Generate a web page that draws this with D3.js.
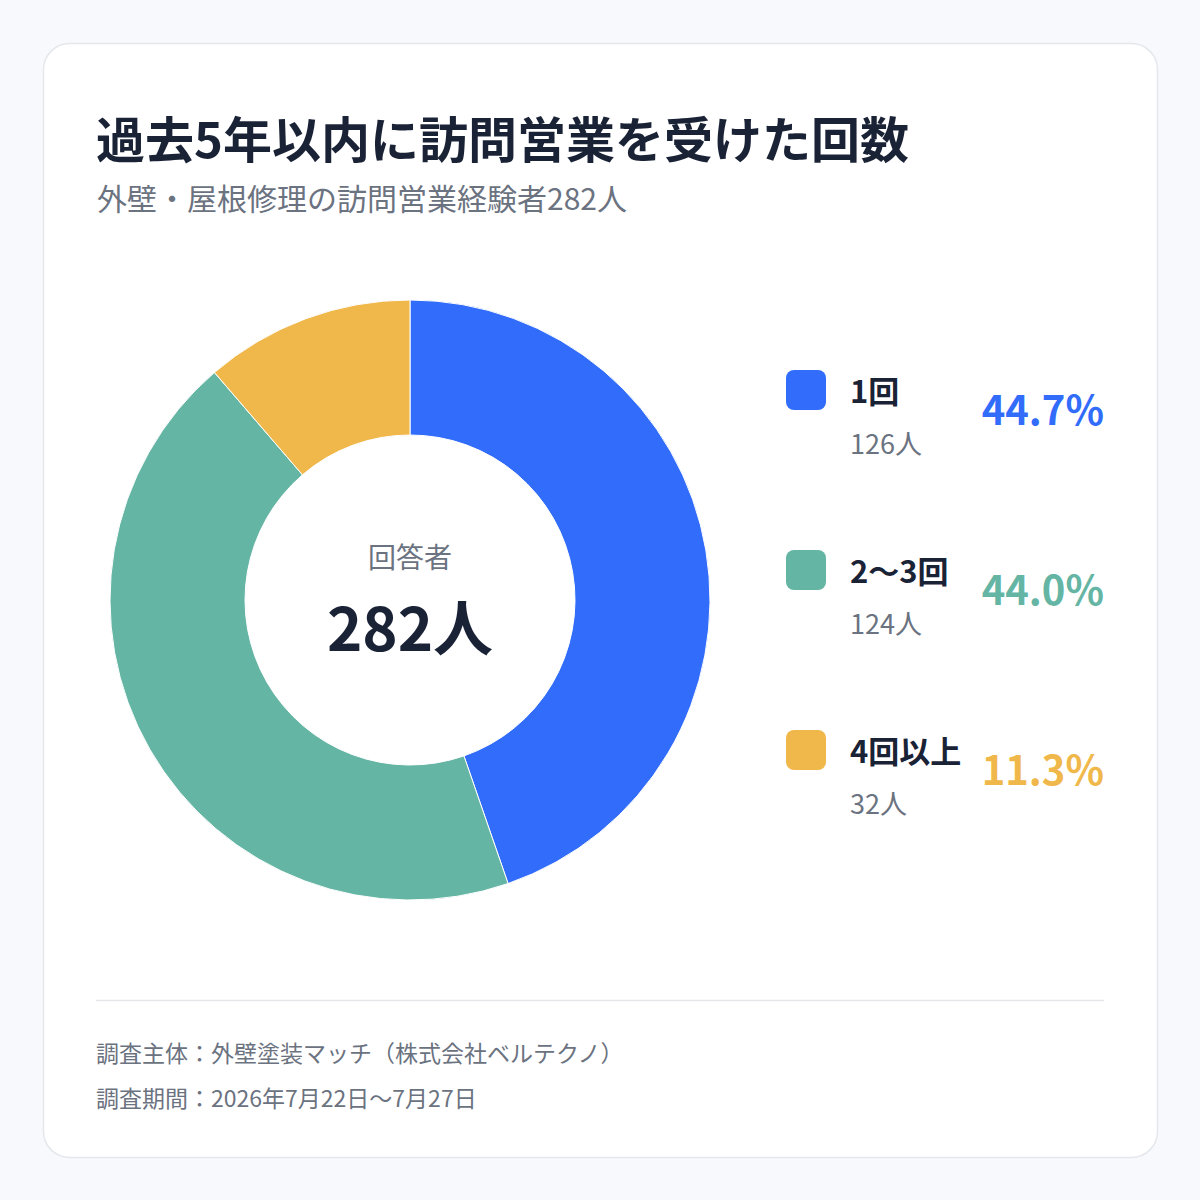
<!DOCTYPE html>
<html lang="ja">
<head>
<meta charset="utf-8">
<script src="https://cdn.jsdelivr.net/npm/d3@7"></script>
<style>
  html, body { margin: 0; padding: 0; background: #f7f9fc; }
  svg { display: block; font-family: "Noto Sans CJK JP", "Noto Sans", sans-serif; }
</style>
</head>
<body>
<svg id="chart" width="1200" height="1200"></svg>
<script>
// data
const categories = ['1回', '2〜3回', '4回以上'];
const counts = [126, 124, 32];
const percents = [44.7, 44.0, 11.3];
const colors = ['#316cfb', '#65b5a5', '#f0b84b'];
const total = 282;

const title = '過去5年以内に訪問営業を受けた回数';
const subtitle = '外壁・屋根修理の訪問営業経験者282人';
const footer = ['調査主体：外壁塗装マッチ（株式会社ベルテクノ）', '調査期間：2026年7月22日〜7月27日'];

const svg = d3.select('#chart');

// card
svg.append('rect')
  .attr('x', 43.5).attr('y', 43.5)
  .attr('width', 1114).attr('height', 1114)
  .attr('rx', 26)
  .attr('fill', '#ffffff')
  .attr('stroke', '#e4e7ec')
  .attr('stroke-width', 1.5);

svg.append('text')
  .attr('x', 96).attr('y', 158)
  .attr('font-size', 49).attr('font-weight', 700)
  .attr('fill', '#1a2236')
  .text(title);

svg.append('text')
  .attr('x', 97).attr('y', 210)
  .attr('font-size', 30)
  .attr('fill', '#6b7280')
  .text(subtitle);

// donut
const cx = 410, cy = 600;
const outer = 300, inner = 165;

const pie = d3.pie().sort(null).value(d => d)(percents);
const arc = d3.arc().innerRadius(inner).outerRadius(outer);

const g = svg.append('g').attr('transform', `translate(${cx}, ${cy})`);

g.selectAll('path.slice')
  .data(pie)
  .enter().append('path')
  .attr('class', 'slice')
  .attr('d', arc)
  .attr('fill', (d, i) => colors[i])
  .attr('stroke', '#ffffff')
  .attr('stroke-width', 1);

g.append('text')
  .attr('y', -32)
  .attr('text-anchor', 'middle')
  .attr('font-size', 28)
  .attr('fill', '#6b7280')
  .text('回答者');

g.append('text')
  .attr('y', 51)
  .attr('text-anchor', 'middle')
  .attr('font-size', 60).attr('font-weight', 700)
  .attr('fill', '#1a2236')
  .text(`${total}人`);

// legend
const rowY = d3.scalePoint().domain(categories).range([370, 730]);

const row = svg.selectAll('g.legend')
  .data(categories)
  .enter().append('g')
  .attr('class', 'legend')
  .attr('transform', d => `translate(0, ${rowY(d)})`);

row.append('rect')
  .attr('x', 786).attr('y', 0)
  .attr('width', 40).attr('height', 40)
  .attr('rx', 8)
  .attr('fill', (d, i) => colors[i]);

row.append('text')
  .attr('x', 850).attr('y', 33)
  .attr('font-size', 31).attr('font-weight', 700)
  .attr('fill', '#1a2236')
  .text(d => d);

row.append('text')
  .attr('x', 850).attr('y', 84)
  .attr('font-size', 27)
  .attr('fill', '#6b7280')
  .text((d, i) => `${counts[i]}人`);

row.append('text')
  .attr('x', 1104).attr('y', 55)
  .attr('text-anchor', 'end')
  .attr('font-size', 40).attr('font-weight', 700)
  .attr('fill', (d, i) => colors[i])
  .text((d, i) => `${percents[i].toFixed(1)}%`);

// footer
svg.append('line')
  .attr('x1', 96).attr('x2', 1104)
  .attr('y1', 1000.5).attr('y2', 1000.5)
  .attr('stroke', '#e5e7eb')
  .attr('stroke-width', 1.5);

svg.selectAll('text.footer')
  .data(footer)
  .enter().append('text')
  .attr('class', 'footer')
  .attr('x', 96)
  .attr('y', (d, i) => 1062 + i * 45)
  .attr('font-size', 23)
  .attr('fill', '#6b7280')
  .text(d => d);
</script>
</body>
</html>
